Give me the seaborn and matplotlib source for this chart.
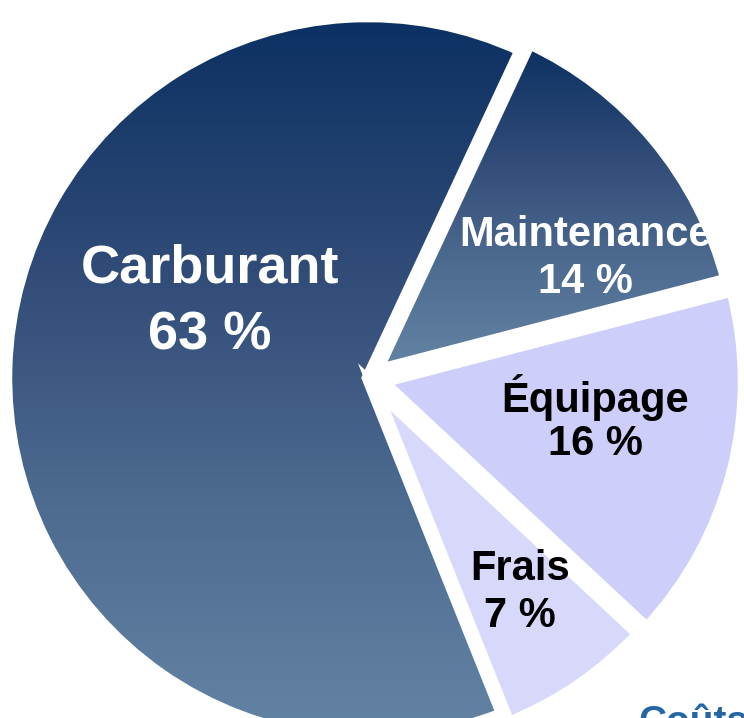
import numpy as np
import matplotlib.pyplot as plt
import matplotlib.colors as mcolors
import seaborn as sns

# order: clockwise from the top-right boundary
categories = ["Maintenance", "Équipage", "Frais", "Carburant"]
values = [14, 16, 7, 63]
pct_labels = ["14 %", "16 %", "7 %", "63 %"]

sns.set_theme(style="white")
plt.rcParams['font.family'] = ['Liberation Sans', 'DejaVu Sans']

W, H = 744, 718
fig = plt.figure(figsize=(W / 100, H / 100), dpi=100)
ax = fig.add_axes([0, 0, 1, 1])

# pie centre in pixels and radius
cx, cy, R = 368, 378, 362

wedges, _ = ax.pie(values, startangle=65, counterclock=False, radius=1.0,
                   explode=[0.03, 0.04, 0.03, 0.0],
                   wedgeprops=dict(edgecolor="white", linewidth=9))
ax.set_xlim(-cx / R, (W - cx) / R)
ax.set_ylim(-(H - cy) / R, cy / R)
ax.set_aspect("equal")
ax.axis("off")

# vertical gradients for the two dark slices
grad = mcolors.LinearSegmentedColormap.from_list("navy", ["#0b3062", "#2f4a76", "#4d6a90", "#6484a4"])
fills = {"Maintenance": None, "Carburant": None, "Équipage": "#cecefb", "Frais": "#d8d8fb"}
for w, name in zip(wedges, categories):
    w.set_zorder(1)
    if fills[name] is not None:
        w.set_facecolor(fills[name])
        continue
    w.set_facecolor("none")
    bb = w.get_path().get_extents(w.get_transform() - ax.transData)
    img = np.linspace(0, 1, 256).reshape(-1, 1)
    im = ax.imshow(img, cmap=grad, aspect="auto", origin="upper",
                   extent=[bb.x0, bb.x1, bb.y0, bb.y1], zorder=0.5)
    im.set_clip_path(w)

def px(x, y):
    return (x - cx) / R, (cy - y) / R

# label placement in pixels: name x, y, pct y, colour, size
lbl_pos = {"Carburant": (210, 268, 335, "white", 39),
           "Maintenance": (585, 235, 282, "white", 30),
           "Équipage": (595, 397, 444, "black", 30),
           "Frais": (520, 569, 616, "black", 30)}
for name, p in zip(categories, pct_labels):
    x, y1, y2, c, fs = lbl_pos[name]
    ax.text(*px(x, y1), name, color=c, fontsize=fs, fontweight="bold", ha="center", va="center")
    ax.text(*px(x, y2), p, color=c, fontsize=fs, fontweight="bold", ha="center", va="center")

# title sits mostly below the picture edge, as in the source
fig.text(638 / W, 1 - 733 / H, "Coûts", color="#2466a6", fontsize=28, fontweight="bold",
         ha="left", va="baseline")

fig.savefig("out.png", dpi=100, facecolor="white")
